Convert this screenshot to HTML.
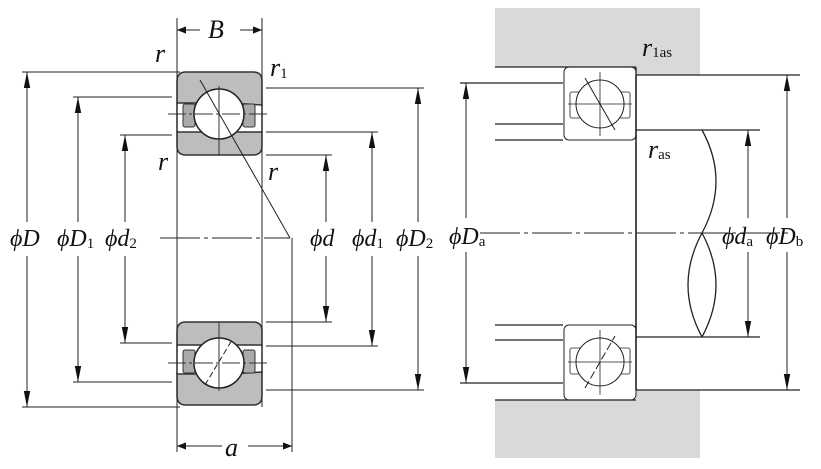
<!DOCTYPE html>
<html><head><meta charset="utf-8"><style>
html,body{margin:0;padding:0;background:#fff;}
svg{display:block}
text{font-family:"Liberation Serif",serif;font-style:italic;fill:#111;}
.s{font-style:normal;font-size:15px}
</style></head><body>
<svg width="821" height="469" viewBox="0 0 821 469" xmlns="http://www.w3.org/2000/svg">
<defs>
<marker id="ar" viewBox="0 0 10 10" refX="10" refY="5" markerWidth="16" markerHeight="9" orient="auto-start-reverse" markerUnits="userSpaceOnUse"><path d="M0,1 L10,5 L0,9 Z" fill="#111"/></marker>
<marker id="av" viewBox="0 0 10 20" refX="5" refY="0" markerWidth="8" markerHeight="16" orient="0" markerUnits="userSpaceOnUse"><path d="M1,20 L5,0 L9,20 Z" fill="#111"/></marker>
<marker id="avd" viewBox="0 0 10 20" refX="5" refY="20" markerWidth="8" markerHeight="16" orient="0" markerUnits="userSpaceOnUse"><path d="M1,0 L5,20 L9,0 Z" fill="#111"/></marker>
<g id="brg">
 <path d="M186,72 H253 Q262,72 262,81 V105 L230,103 H186 Q177,103 177,103 V81 Q177,72 186,72 Z" fill="#bdbdbd" stroke="#333" stroke-width="1.5"/>
 <path d="M177,132 H262 V146 Q262,155 253,155 H186 Q177,155 177,146 Z" fill="#bdbdbd" stroke="#333" stroke-width="1.5"/>
 <line x1="177" y1="103" x2="177" y2="132" stroke="#333" stroke-width="1.5"/>
 <line x1="262" y1="105" x2="262" y2="132" stroke="#333" stroke-width="1.5"/>
 <rect x="183" y="104" width="12" height="23" rx="2" fill="#aaa" stroke="#333"/>
 <rect x="243" y="104" width="12" height="23" rx="2" fill="#aaa" stroke="#333"/>
 <circle cx="219" cy="114" r="25" fill="#fff" stroke="#222" stroke-width="1.5"/>
 <line x1="219" y1="86" x2="219" y2="155" stroke="#333"/>
 <line x1="168" y1="114" x2="268" y2="114" stroke="#333" stroke-dasharray="18,3,3,3"/>
</g>
</defs>

<use href="#brg"/>
<g transform="translate(0,477) scale(1,-1)"><use href="#brg"/></g>
<g stroke="#222" stroke-width="1" fill="none">
 <line x1="177" y1="18" x2="177" y2="452"/>
 <line x1="262" y1="18" x2="262" y2="407"/>
 <line x1="292" y1="238" x2="292" y2="452"/>
 <line x1="200" y1="80" x2="290" y2="238"/>
 <line x1="160" y1="238" x2="290" y2="238" stroke-dasharray="40,4,4,4"/>
 <line x1="205" y1="385" x2="232" y2="340" stroke-dasharray="6,3"/>
 <line x1="177" y1="30" x2="200" y2="30" marker-start="url(#ar)"/>
 <line x1="240" y1="30" x2="262" y2="30" marker-end="url(#ar)"/>
 <line x1="177" y1="446" x2="222" y2="446" marker-start="url(#ar)"/>
 <line x1="248" y1="446" x2="292" y2="446" marker-end="url(#ar)"/>
 <line x1="22" y1="72" x2="180" y2="72"/><line x1="22" y1="407" x2="180" y2="407"/>
 <line x1="73" y1="97" x2="172" y2="97"/><line x1="73" y1="382" x2="172" y2="382"/>
 <line x1="120" y1="135" x2="172" y2="135"/><line x1="120" y1="343" x2="172" y2="343"/>
 <line x1="266" y1="88" x2="424" y2="88"/><line x1="266" y1="390" x2="424" y2="390"/>
 <line x1="266" y1="132" x2="378" y2="132"/><line x1="266" y1="346" x2="378" y2="346"/>
 <line x1="266" y1="155" x2="332" y2="155"/><line x1="266" y1="322" x2="332" y2="322"/>
 <line x1="27" y1="72" x2="27" y2="222" marker-start="url(#av)"/><line x1="27" y1="256" x2="27" y2="407" marker-end="url(#avd)"/>
 <line x1="78" y1="97" x2="78" y2="222" marker-start="url(#av)"/><line x1="78" y1="256" x2="78" y2="382" marker-end="url(#avd)"/>
 <line x1="125" y1="135" x2="125" y2="222" marker-start="url(#av)"/><line x1="125" y1="256" x2="125" y2="343" marker-end="url(#avd)"/>
 <line x1="326" y1="155" x2="326" y2="222" marker-start="url(#av)"/><line x1="326" y1="256" x2="326" y2="322" marker-end="url(#avd)"/>
 <line x1="372" y1="132" x2="372" y2="222" marker-start="url(#av)"/><line x1="372" y1="256" x2="372" y2="346" marker-end="url(#avd)"/>
 <line x1="418" y1="88" x2="418" y2="222" marker-start="url(#av)"/><line x1="418" y1="256" x2="418" y2="390" marker-end="url(#avd)"/>
</g>
<text x="208" y="38" font-size="26">B</text>
<text x="155" y="62" font-size="26">r</text>
<text x="270" y="76" font-size="26">r<tspan class="s" dy="2">1</tspan></text>
<text x="158" y="170" font-size="26">r</text>
<text x="268" y="180" font-size="26">r</text>
<text x="225" y="456" font-size="26">a</text>
<g font-size="24">
<text x="10" y="246">ϕD</text>
<text x="57" y="246">ϕD<tspan class="s" dy="2">1</tspan></text>
<text x="105" y="246">ϕd<tspan class="s" dy="2">2</tspan></text>
<text x="310" y="246">ϕd</text>
<text x="352" y="246">ϕd<tspan class="s" dy="2">1</tspan></text>
<text x="396" y="246">ϕD<tspan class="s" dy="2">2</tspan></text>
</g>

<rect x="495" y="8" width="205" height="59" fill="#d9d9d9"/>
<rect x="636" y="67" width="64" height="8" fill="#d9d9d9"/>
<rect x="495" y="400" width="205" height="58" fill="#d9d9d9"/>
<rect x="636" y="390" width="64" height="10" fill="#d9d9d9"/>
<g stroke="#222" stroke-width="1.3" fill="none">
 <line x1="495" y1="67" x2="636" y2="67"/>
 <line x1="636" y1="75" x2="800" y2="75"/>
 <line x1="636" y1="67" x2="636" y2="75"/>
 <line x1="495" y1="400" x2="636" y2="400"/>
 <line x1="636" y1="390" x2="800" y2="390"/>
 <line x1="636" y1="130" x2="760" y2="130"/>
 <line x1="636" y1="337" x2="760" y2="337"/>
 <line x1="636" y1="75" x2="636" y2="390" stroke-width="1.6"/>
 <line x1="495" y1="140" x2="563" y2="140"/>
 <line x1="495" y1="325" x2="563" y2="325"/>
 <line x1="495" y1="124" x2="563" y2="124"/>
 <line x1="495" y1="340" x2="563" y2="340"/>
 <line x1="460" y1="83" x2="563" y2="83"/>
 <line x1="460" y1="383" x2="563" y2="383"/>
 <path d="M702,130 Q730,181 702,233"/>
 <path d="M702,233 Q730,285 702,337"/>
 <path d="M702,233 Q674,285 702,337"/>
 <line x1="480" y1="233" x2="790" y2="233" stroke-width="1" stroke-dasharray="40,4,4,4"/>
 <rect x="564" y="67" width="72" height="73" rx="5" stroke-width="1"/>
 <rect x="564" y="325" width="72" height="75" rx="5" stroke-width="1"/>
 <rect x="570" y="92" width="12" height="26" rx="2" stroke-width="0.8"/>
 <rect x="618" y="92" width="12" height="26" rx="2" stroke-width="0.8"/>
 <rect x="570" y="348" width="12" height="26" rx="2" stroke-width="0.8"/>
 <rect x="618" y="348" width="12" height="26" rx="2" stroke-width="0.8"/>
 <circle cx="600" cy="104" r="24" fill="#fff" stroke-width="1"/>
 <circle cx="600" cy="362" r="24" fill="#fff" stroke-width="1"/>
 <line x1="585" y1="78" x2="615" y2="130" stroke-width="1"/>
 <line x1="585" y1="388" x2="615" y2="336" stroke-width="1" stroke-dasharray="8,3"/>
 <line x1="600" y1="72" x2="600" y2="136" stroke-width="0.8"/>
 <line x1="600" y1="330" x2="600" y2="395" stroke-width="0.8"/>
 <line x1="568" y1="104" x2="632" y2="104" stroke-width="0.8"/>
 <line x1="568" y1="362" x2="632" y2="362" stroke-width="0.8"/>
 <line x1="466" y1="83" x2="466" y2="218" marker-start="url(#av)" stroke-width="1"/>
 <line x1="466" y1="252" x2="466" y2="383" marker-end="url(#avd)" stroke-width="1"/>
 <line x1="748" y1="130" x2="748" y2="218" marker-start="url(#av)" stroke-width="1"/>
 <line x1="748" y1="252" x2="748" y2="337" marker-end="url(#avd)" stroke-width="1"/>
 <line x1="787" y1="75" x2="787" y2="218" marker-start="url(#av)" stroke-width="1"/>
 <line x1="787" y1="252" x2="787" y2="390" marker-end="url(#avd)" stroke-width="1"/>
</g>
<text x="642" y="56" font-size="26">r<tspan class="s" dy="1">1as</tspan></text>
<text x="648" y="158" font-size="26">r<tspan class="s" dy="1">as</tspan></text>
<g font-size="24">
<text x="449" y="244">ϕD<tspan class="s" dy="2">a</tspan></text>
<text x="722" y="244">ϕd<tspan class="s" dy="2">a</tspan></text>
<text x="766" y="244">ϕD<tspan class="s" dy="2">b</tspan></text>
</g>
</svg>
</body></html>
